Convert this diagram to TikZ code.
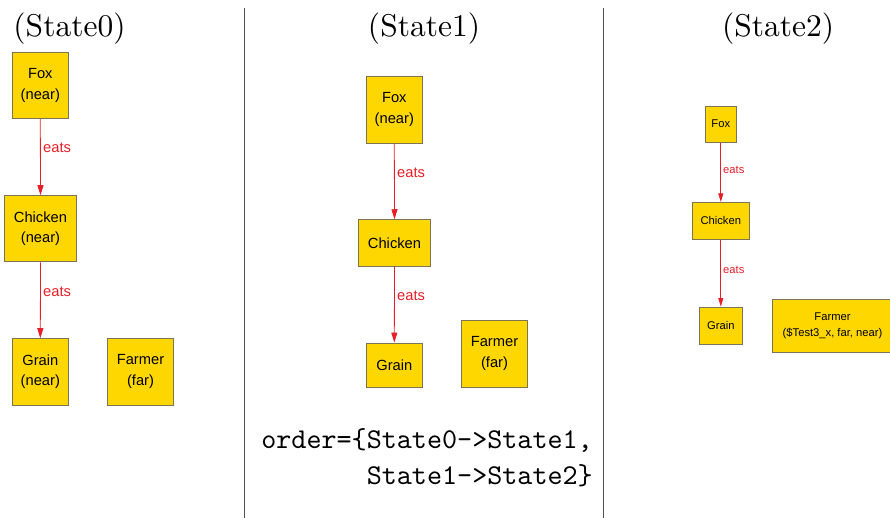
\documentclass[tikz,border=0pt]{standalone}
\usepackage{fontspec}
\newfontfamily\arialf{Liberation Sans}
\newfontfamily\titlefont{lmroman10-regular}[Extension=.otf]
\newfontfamily\codefont{lmmono10-regular}[Extension=.otf]
\usetikzlibrary{arrows.meta}
\definecolor{boxfill}{RGB}{255,215,0}
\definecolor{boxline}{RGB}{125,115,85}
\definecolor{eatred}{RGB}{230,30,40}
\definecolor{divgray}{RGB}{80,80,80}
\tikzset{
  stbox/.style={draw=boxline, fill=boxfill, line width=0.9pt, inner sep=0pt, align=center},
  bigtxt/.style={font=\arialf\fontsize{14.7}{20.7}\selectfont},
  smalltxt/.style={font=\arialf\fontsize{11.2}{16}\selectfont},
  eatsarrow/.style={draw=eatred, line width=0.8pt, -{Triangle[length=10pt,width=6pt]}},
  eatsarrowsm/.style={draw=eatred, line width=0.7pt, -{Triangle[length=8.5pt,width=5pt]}},
  eatslbl/.style={text=eatred, anchor=west, inner sep=0pt},
  title/.style={font=\titlefont\fontsize{31.5}{38}\selectfont, anchor=base, inner sep=0pt},
  divider/.style={draw=divgray, line width=1.2pt},
  ordertxt/.style={font=\codefont\fontsize{28.7}{36}\selectfont, anchor=base east, inner sep=0pt}
}
\begin{document}
\begin{tikzpicture}[x=1pt,y=-1pt]
\useasboundingbox (0,0) rectangle (890,518);
% titles
\node[title] (t0) at (69.5,36.5) {(State0)};
\node[title] (t1) at (424,36.5) {(State1)};
\node[title] (t2) at (778,36.5) {(State2)};
% dividers
\coordinate (d1a) at (244.5,8);
\coordinate (d1b) at (244.5,518);
\coordinate (d2a) at (603.5,8);
\coordinate (d2b) at (603.5,518);
\draw[divider] (d1a) -- (d1b);
\draw[divider] (d2a) -- (d2b);
% State0
\node[stbox,bigtxt,minimum width=56pt,minimum height=66.5pt] (s0fox) at (40.3,85.5) {Fox\\(near)};
\node[stbox,bigtxt,minimum width=72.4pt,minimum height=66.3pt] (s0chicken) at (40.5,228.8) {Chicken\\(near)};
\node[stbox,bigtxt,minimum width=56pt,minimum height=66.3pt] (s0grain) at (40.3,371.8) {Grain\\(near)};
\node[stbox,bigtxt,minimum width=66.4pt,minimum height=66.3pt] (s0farmer) at (140.5,371.8) {Farmer\\(far)};
\draw[eatsarrow] (s0fox.south) -- (s0chicken.north);
\draw[eatsarrow] (s0chicken.south) -- (s0grain.north);
\node[eatslbl,bigtxt] (s0e1) at (43,148.3) {eats};
\node[eatslbl,bigtxt] (s0e2) at (43,291.7) {eats};
% State1
\node[stbox,bigtxt,minimum width=56.3pt,minimum height=67pt] (s1fox) at (394.3,109.8) {Fox\\(near)};
\node[stbox,bigtxt,minimum width=72.4pt,minimum height=46.6pt] (s1chicken) at (394.5,243) {Chicken};
\node[stbox,bigtxt,minimum width=56.7pt,minimum height=44.3pt] (s1grain) at (394.3,365.2) {Grain};
\node[stbox,bigtxt,minimum width=66.4pt,minimum height=67pt] (s1farmer) at (494.5,353.8) {Farmer\\(far)};
\draw[eatsarrow] (s1fox.south) -- (s1chicken.north);
\draw[eatsarrow] (s1chicken.south) -- (s1grain.north);
\node[eatslbl,bigtxt] (s1e1) at (397,172.7) {eats};
\node[eatslbl,bigtxt] (s1e2) at (397,296) {eats};
\node[ordertxt] (ord1) at (593,448) {order=\{State0->State1,};
\node[ordertxt] (ord2) at (593,484) {State1->State2\}};
% State2
\node[stbox,smalltxt,minimum width=31pt,minimum height=36.3pt] (s2fox) at (720.8,124.2) {Fox};
\node[stbox,smalltxt,minimum width=57pt,minimum height=37pt] (s2chicken) at (720.8,220.8) {Chicken};
\node[stbox,smalltxt,minimum width=43pt,minimum height=37pt] (s2grain) at (720.8,325.5) {Grain};
\node[stbox,smalltxt,minimum width=121pt,minimum height=53pt] (s2farmer) at (832.5,325.5) {Farmer\\(\$Test3\_x, far, near)};
\draw[eatsarrowsm] (s2fox.south) -- (s2chicken.north);
\draw[eatsarrowsm] (s2chicken.south) -- (s2grain.north);
\node[eatslbl,smalltxt] (s2e1) at (723,170) {eats};
\node[eatslbl,smalltxt] (s2e2) at (723,270) {eats};
\end{tikzpicture}
\end{document}
